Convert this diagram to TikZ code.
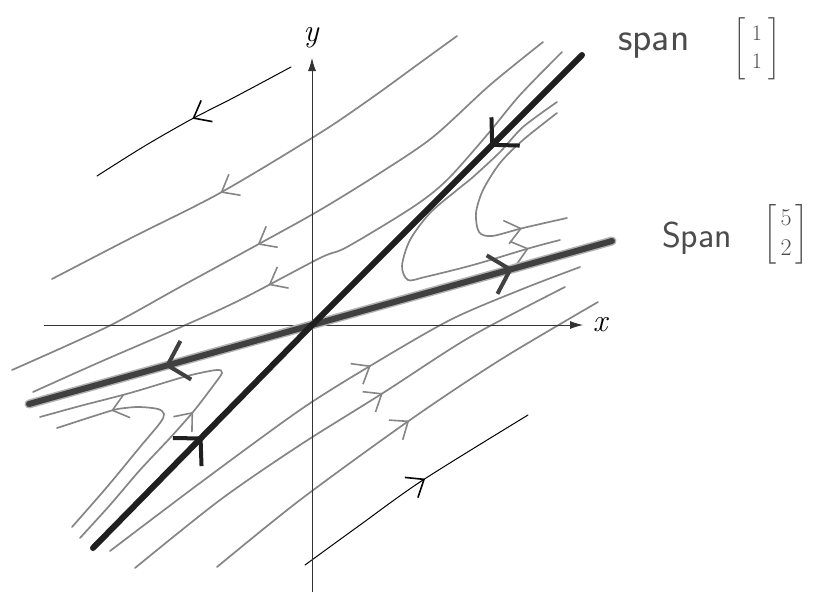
\RequirePackage{fix-cm}
\documentclass[tikz,border=0pt]{standalone}
\usepackage{amsmath}
\usetikzlibrary{arrows.meta,decorations.markings}

\begin{document}
\begin{tikzpicture}[
    x=1pt, y=-1pt,
    axis/.style={line width=0.9pt, black!80, -{Latex[length=13pt,width=8pt]}},
    axislabel/.style={font=\fontsize{32}{34}\selectfont\itshape},
    eigen/.style={line width=6pt, line cap=round, black!88},
    eigenhalo/.style={line width=9pt, line cap=round, black!30},
    traj/.style={line width=1.7pt, line cap=round, black!48},
    sketch/.style={line width=1pt, line cap=round, black},
    flowtip/.style={postaction={decorate}, decoration={markings,
        mark=at position #1 with {\arrow{Straight Barb[length=15pt,width=24pt,line width=1.6pt]}}}},
    bigtip/.style={postaction={decorate}, decoration={markings,
        mark=at position #1 with {\arrow{Straight Barb[length=19pt,width=40pt,line width=4pt]}}}},
    spanlabel/.style={black!70, inner sep=0pt}
]
    \useasboundingbox (0,0) rectangle (817,592);

    \coordinate (O) at (312,325);
    \coordinate (xs) at (44,325);
    \coordinate (xe) at (583,325);
    \coordinate (ys) at (312,592);
    \coordinate (ye) at (312,58);
    \coordinate (s1) at (582,55);
    \coordinate (s2) at (93,548);
    \coordinate (u1) at (612,241);
    \coordinate (u2) at (29,404);

    % Trajetorias acima (descem para a esquerda)
    \draw[sketch, flowtip=0.5] plot[smooth] coordinates {(291,67) (233,98) (190,120) (143,147) (97,176)};
    \draw[traj, flowtip=0.6] plot[smooth] coordinates {(457,36) (417,65) (373,97) (320,133) (220,193) (133,237) (52,279)};
    \draw[traj, flowtip=0.56] plot[smooth] coordinates {(543,42) (490,85) (433,137) (380,173) (320,210) (257,245) (180,287) (107,327) (12,370)};
    \draw[traj, flowtip=0.595] plot[smooth] coordinates {(562,52) (520,95) (487,135) (447,180) (413,207) (347,247) (320,258) (240,300) (181,327) (100,362) (33,392)};

    % Trajetorias que viram para a direita
    \draw[traj, flowtip=0.81] plot[smooth] coordinates {(557,113) (523,140) (500,163) (483,190) (476,213) (479,232) (492,236) (523,228) (567,218)};
    \draw[traj, flowtip=0.92] plot[smooth] coordinates {(557,102) (523,127) (500,152) (473,177) (457,190) (430,213) (410,240) (402,266) (408,280) (425,277) (473,265) (530,248) (560,240)};

    % Trajetorias que viram para a esquerda
    \draw[traj, flowtip=0.78] plot[smooth] coordinates {(72,527) (107,487) (140,447) (160,423) (164,414) (158,409) (140,407) (125,408) (110,411) (57,428)};
    \draw[traj, flowtip=0.415] plot[smooth] coordinates {(80,538) (110,505) (140,470) (170,438) (193,412) (210,390) (222,373) (217,370) (200,373) (180,378) (130,393) (80,406) (40,417)};

    % Trajetorias abaixo (sobem para a direita)
    \draw[traj, flowtip=0.58] plot[smooth] coordinates {(110,551) (200,483) (300,410) (370,366) (450,320) (520,290) (580,267)};
    \draw[traj, flowtip=0.59] plot[smooth] coordinates {(135,568) (220,500) (300,445) (383,393) (470,337) (565,287)};
    \draw[traj, flowtip=0.52] plot[smooth] coordinates {(217,567) (300,500) (410,420) (500,360) (598,302)};
    \draw[sketch, flowtip=0.55] plot[smooth] coordinates {(305,565) (360,525) (423,480) (528,415)};

    % Eixos
    \draw[axis] (xs) -- (xe);
    \draw[axis] (ys) -- (ye);
    \node[axislabel] (xlab) at (600,325) {x};
    \node[axislabel] (ylab) at (311,38) {y};

    % Autoespacos
    \draw[eigenhalo] (u2) -- (u1);
    \draw[eigen, black!75, bigtip=0.67] (O) -- (u1);
    \draw[eigen, black!75, bigtip=0.52] (O) -- (u2);
    \draw[eigen, bigtip=0.34] (s1) -- (O);
    \draw[eigen, bigtip=0.50] (s2) -- (O);

    \node[spanlabel, anchor=base west, font=\sffamily\fontsize{40}{42}\selectfont] (spanA) at (618,50) {span};
    \node[spanlabel, font=\fontsize{22}{28}\selectfont] (vecA) at (757,49) {$\left[\begin{matrix}\;1\;\\\;1\;\end{matrix}\right]$};
    \node[spanlabel, anchor=base west, font=\sffamily\fontsize{36}{38}\selectfont] (spanB) at (662,247) {Span};
    \node[spanlabel, font=\fontsize{24}{30}\selectfont] (vecB) at (786,234) {$\left[\begin{matrix}\,5\,\\\,2\,\end{matrix}\right]$};

\end{tikzpicture}
\end{document}
